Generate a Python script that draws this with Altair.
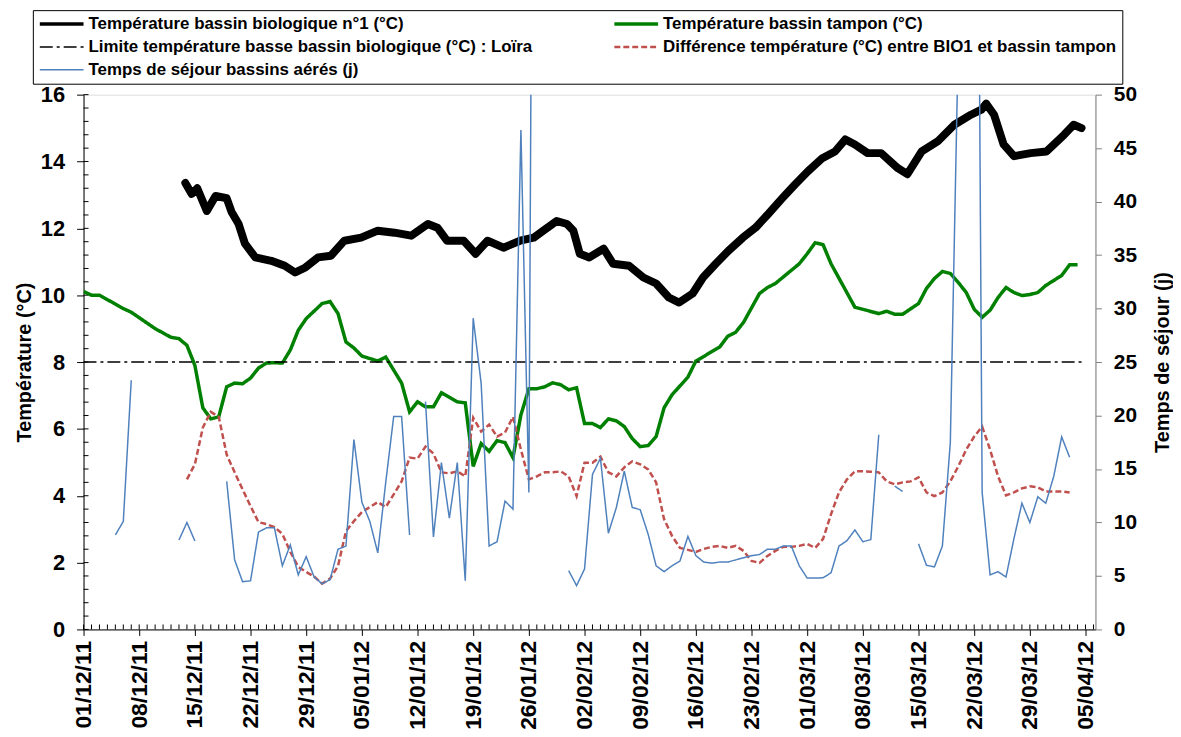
import altair as alt
import pandas as pd

START = pd.Timestamp("2011-12-01")

# ---------------- data ----------------
S_BIO = "Température bassin biologique n°1 (°C)"
S_TAMPON = "Température bassin tampon (°C)"
S_LIMIT = "Limite température basse bassin biologique (°C) : Loïra"
S_DIFF = "Différence température (°C) entre BIO1 et bassin tampon"
S_SEJOUR = "Temps de séjour bassins aérés (j)"

# days since 01/12/11
bio1_day = [12.8, 13.6, 14.3, 15.5, 16.6, 18.0, 18.6, 19.5, 20.3, 21.6, 23.6, 25.3, 26.6, 27.9,
            29.5, 31.1, 32.8, 34.9, 37.0, 39.1, 41.2, 43.3, 44.5, 45.7, 47.8, 49.3, 50.8, 52.8,
            54.9, 56.6, 57.8, 59.5, 60.8, 61.6, 62.4, 63.6, 65.4, 66.6, 68.6, 70.4, 72.0, 73.6,
            74.9, 76.6, 77.9, 79.5, 81.1, 82.9, 84.5, 86.1, 87.9, 89.5, 91.1, 92.9, 94.5, 95.8,
            97.0, 98.6, 100.3, 102.4, 103.6, 105.4, 107.4, 109.5, 111.6, 112.9, 113.5, 114.5,
            115.7, 117.0, 119.1, 121.1, 123.3, 124.5, 125.5]
bio1_temp = [13.36, 13.03, 13.20, 12.52, 12.97, 12.90, 12.50, 12.13, 11.54, 11.13, 11.03, 10.88,
             10.68, 10.83, 11.13, 11.18, 11.63, 11.72, 11.93, 11.87, 11.78, 12.13, 12.02, 11.63,
             11.63, 11.24, 11.63, 11.42, 11.63, 11.72, 11.93, 12.22, 12.13, 11.93, 11.24, 11.13,
             11.39, 10.94, 10.88, 10.53, 10.35, 9.93, 9.78, 10.05, 10.53, 10.94, 11.33, 11.72,
             12.02, 12.43, 12.91, 13.32, 13.71, 14.10, 14.30, 14.66, 14.51, 14.25, 14.25, 13.80,
             13.62, 14.30, 14.60, 15.10, 15.40, 15.55, 15.73, 15.40, 14.51, 14.16, 14.25, 14.30,
             14.80, 15.10, 15.00]

tampon_day = [0, 1, 2, 5, 6, 9, 11, 12, 13, 14, 15, 16, 17, 18, 19, 20, 21, 22, 23, 24, 25, 26,
              27, 28, 30, 31, 32, 33, 34, 35, 37, 38, 39, 40, 41, 42, 43, 44, 45, 47, 48, 49, 50,
              51, 52, 53, 54, 55, 56, 57, 58, 59, 60, 61, 62, 63, 64, 65, 66, 67, 68, 69, 70, 71,
              72, 73, 74, 76, 77, 80, 81, 82, 83, 85, 86, 87, 90, 91, 92, 93, 94, 97, 100, 101,
              102, 103, 105, 106, 107, 108, 109, 110, 111, 112, 113, 114, 115, 116, 117, 118,
              119, 120, 121, 123, 124, 125]
tampon_temp = [10.11, 10.00, 10.00, 9.60, 9.49, 9.00, 8.74, 8.70, 8.50, 7.90, 6.63, 6.30, 6.36,
               7.26, 7.37, 7.35, 7.52, 7.82, 7.97, 7.98, 7.97, 8.36, 8.95, 9.30, 9.75, 9.81, 9.45,
               8.60, 8.42, 8.18, 8.03, 8.15, 7.76, 7.37, 6.51, 6.81, 6.66, 6.66, 7.08, 6.81, 6.78,
               4.88, 5.56, 5.33, 5.65, 5.59, 5.14, 6.42, 7.20, 7.20, 7.26, 7.38, 7.32, 7.17, 7.23,
               6.16, 6.16, 6.04, 6.30, 6.24, 6.07, 5.71, 5.47, 5.50, 5.77, 6.63, 7.02, 7.55, 8.03,
               8.45, 8.77, 8.89, 9.19, 10.05, 10.23, 10.35, 10.94, 11.24, 11.57, 11.51, 10.94,
               9.64, 9.45, 9.52, 9.43, 9.43, 9.75, 10.20, 10.50, 10.71, 10.65, 10.38, 10.08, 9.58,
               9.34, 9.55, 9.93, 10.23, 10.08, 9.99, 10.02, 10.08, 10.29, 10.59, 10.91, 10.91]

diff_day = [13, 14, 15, 16, 17, 18, 19, 20, 21, 22, 23, 24, 25, 26, 27, 28, 29, 30, 31, 32, 33,
            34, 35, 36, 37, 38, 39, 40, 41, 42, 43, 44, 45, 46, 47, 48, 49, 50, 51, 52, 53, 54,
            55, 56, 57, 58, 59, 60, 61, 62, 63, 64, 65, 66, 67, 68, 69, 70, 71, 72, 73, 74, 75,
            77, 78, 79, 80, 81, 82, 83, 84, 85, 86, 87, 88, 89, 90, 91, 92, 93, 94, 95, 96, 97,
            98, 99, 100, 101, 102, 103, 104, 105, 106, 107, 108, 109, 110, 111, 112, 113, 114,
            115, 116, 117, 118, 119, 120, 121, 122, 123, 124]
diff_temp = [4.49, 4.94, 6.04, 6.51, 6.36, 5.23, 4.70, 4.19, 3.69, 3.21, 3.15, 3.06, 2.86, 2.32,
             1.87, 1.72, 1.58, 1.37, 1.52, 1.90, 2.94, 3.24, 3.51, 3.66, 3.81, 3.66, 4.04, 4.43,
             5.14, 5.11, 5.47, 5.26, 4.70, 4.67, 4.73, 4.58, 6.33, 5.92, 6.13, 5.77, 5.89, 6.36,
             5.38, 4.49, 4.58, 4.70, 4.70, 4.73, 4.58, 3.99, 4.99, 4.99, 5.17, 4.70, 4.58, 4.85,
             5.03, 4.94, 4.79, 4.40, 3.30, 2.80, 2.44, 2.32, 2.41, 2.47, 2.50, 2.44, 2.50, 2.35,
             2.05, 1.99, 2.20, 2.35, 2.47, 2.47, 2.50, 2.56, 2.44, 2.71, 3.45, 4.10, 4.49, 4.73,
             4.73, 4.72, 4.70, 4.43, 4.34, 4.40, 4.43, 4.55, 4.10, 3.99, 4.10, 4.43, 4.88, 5.38,
             5.77, 6.07, 5.38, 4.58, 4.01, 4.10, 4.22, 4.28, 4.25, 4.13, 4.13, 4.13, 4.10]

limit_day = [0, 126]
limit_temp = [8, 8]

sejour_day = list(range(4, 125))
sejour_val = [8.83, 10.1, 23.3, None, None, None, None, None, 8.36, 10.0, 8.27, None, None, None,
              13.85, 6.5, 4.46, 4.55, 9.1, 9.5, 9.5, 5.95, 7.9, 5.1, 6.8, 4.9, 4.27, 4.65, 7.5,
              7.8, 17.75, 11.9, 10.1, 7.16, 13.75, 19.9, 19.9, 8.83, None, 21.3, 8.64, 15.6, 10.4,
              15.6, 4.55, 29.1, 23.0, 7.8, 8.2, 12.0, 11.25, 46.7, 12.8, 160.0, None, None, None,
              5.5, 4.1, 5.65, 14.5, 16.0, 9.0, 11.4, 14.8, 11.4, 11.2, 8.9, 5.95, 5.4, 5.95, 6.4,
              8.7, 6.9, 6.3, 6.2, 6.3, 6.3, 6.5, 6.7, 6.9, 7.0, 7.5, 7.5, 7.8, 7.8, 5.95, 4.8, 4.8,
              4.83, 5.3, 7.8, 8.3, 9.3, 8.2, 8.4, 18.2, None, 13.4, 12.9, None, 8.0, 6.0, 5.85,
              7.8, 17.5, 55.0, 90.0, 130.0, 12.8, 5.1, 5.4, 4.9, 8.5, 11.8, 10.0, 12.4, 11.8, 14.3,
              18.0, 16.1]

# axis tick positions
week_ticks = list(range(0, 127, 7))
minor_days = list(range(0, 128))
minor_temp = [round(i * 0.4, 1) for i in range(41)]

# ---------------- build tables ----------------
def to_dates(days):
    return [START + pd.Timedelta(days=float(d)) for d in days]

temp_df = pd.concat([
    pd.DataFrame({"date": to_dates(tampon_day), "T": tampon_temp, "series": S_TAMPON}),
    pd.DataFrame({"date": to_dates(limit_day), "T": limit_temp, "series": S_LIMIT}),
    pd.DataFrame({"date": to_dates(diff_day), "T": diff_temp, "series": S_DIFF}),
], ignore_index=True)
bio_df = pd.DataFrame({"date": to_dates(bio1_day), "T": bio1_temp, "series": S_BIO})
sej_df = pd.DataFrame({"date": to_dates(sejour_day), "V": sejour_val, "series": S_SEJOUR})
xminor_df = pd.DataFrame({"date": to_dates(minor_days)})
yminor_df = pd.DataFrame({"T": minor_temp})

FONT = "Liberation Sans"
# legend entries fill column by column: left column first, then right column
order = [S_BIO, S_LIMIT, S_SEJOUR, S_TAMPON, S_DIFF]
colors = ["black", "black", "#4F81BD", "#008000", "#C0504D"]
dashes = [[1, 0], [13, 4, 3, 4], [1, 0], [1, 0], [6, 3]]
widths = [3.5, 1.5, 1.5, 3.5, 2.5]

legend = alt.Legend(
    title=None, orient="none", legendX=-51, legendY=-85, columns=2,
    symbolType="stroke", symbolSize=1936, clipHeight=18,
    labelFont=FONT, labelFontSize=17, labelFontWeight="bold", labelColor="black",
    labelLimit=800, labelOffset=3, columnPadding=80, rowPadding=5, padding=5,
    strokeColor="black", fillColor="white",
)
color = alt.Color("series:N", scale=alt.Scale(type="ordinal", domain=order, range=colors),
                  legend=legend)
dash = alt.StrokeDash("series:N", scale=alt.Scale(type="ordinal", domain=order, range=dashes),
                      legend=legend)
width = alt.StrokeWidth("series:N", scale=alt.Scale(type="ordinal", domain=order, range=widths),
                        legend=legend)

x_enc = alt.X(
    "date:T",
    scale=alt.Scale(domain=[alt.DateTime(year=2011, month=12, date=1),
                            alt.DateTime(year=2012, month=4, date=6, hours=6)]),
    axis=alt.Axis(
        values=[alt.DateTime(year=d.year, month=d.month, date=d.day) for d in to_dates(week_ticks)],
        format="%d/%m/%y", labelAngle=270, labelFont=FONT, labelFontSize=23,
        labelFontWeight="bold", labelColor="black", labelPadding=5, tickSize=6,
        tickColor="black", domainColor="black", title=None, grid=False, labelOverlap=False,
    ),
)
y_left = alt.Y(
    "T:Q", scale=alt.Scale(domain=[0, 16], nice=False, zero=False),
    axis=alt.Axis(values=list(range(0, 17, 2)), title="Température (°C)", titleFont=FONT,
                  titleFontSize=20, titleFontWeight="bold", titleColor="black", titlePadding=6,
                  labelFont=FONT, labelFontSize=22, labelFontWeight="bold", labelColor="black",
                  tickSize=7, tickColor="black", domainColor="black", labelPadding=12, grid=False),
)
y_right = alt.Y(
    "V:Q", scale=alt.Scale(domain=[0, 50], nice=False, zero=False),
    axis=alt.Axis(orient="right", values=list(range(0, 51, 5)), title="Temps de séjour (j)",
                  titleAngle=270, titleBaseline="top",
                  titleFont=FONT, titleFontSize=20, titleFontWeight="bold", titleColor="black",
                  titlePadding=16, labelFont=FONT, labelFontSize=21, labelFontWeight="bold",
                  labelColor="black", tickSize=6, tickColor="#808080", domainColor="#808080",
                  labelPadding=12, grid=False),
)

bio_thick = alt.Chart(bio_df).mark_line(clip=True, strokeJoin="round", strokeCap="round").encode(
    x=x_enc, y=y_left, color=alt.value("black"), strokeWidth=alt.value(8))
bio_main = alt.Chart(bio_df).mark_line(clip=True).encode(
    x=x_enc, y=y_left, color=color, strokeDash=dash, strokeWidth=width)
temp_lines = alt.Chart(temp_df).mark_line(clip=True).encode(
    x=x_enc, y=y_left, color=color, strokeDash=dash, strokeWidth=width)
x_minor = alt.Chart(xminor_df).mark_rule(color="black", strokeWidth=1).encode(
    x=x_enc, y=alt.value(533), y2=alt.value(538))
y_minor = alt.Chart(yminor_df).mark_rule(color="black", strokeWidth=1).encode(
    y=y_left, x=alt.value(0), x2=alt.value(5))

left = alt.layer(y_minor, x_minor, bio_thick, bio_main, temp_lines)
right = alt.Chart(sej_df).mark_line(clip=True).encode(
    x=x_enc, y=y_right, color=color, strokeDash=dash, strokeWidth=width)

chart = alt.layer(left, right).resolve_scale(y="independent").properties(
    width=1018, height=538,
    autosize=alt.AutoSizeParams(type="none"),
    padding={"left": 76, "top": 85, "right": 78, "bottom": 100},
).configure_view(stroke=None).configure(font=FONT)

chart.save("out.html", embed_options={"renderer": "svg", "actions": False})
